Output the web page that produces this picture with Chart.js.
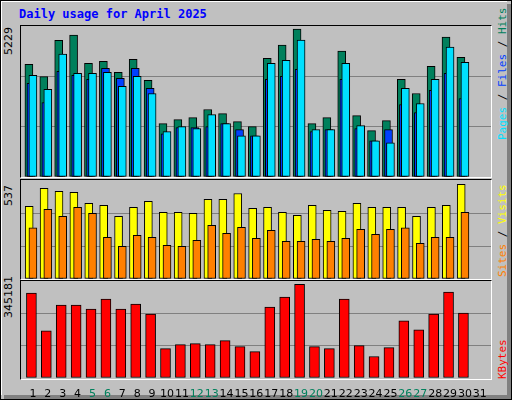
<!DOCTYPE html>
<html><head><meta charset="utf-8">
<script src="https://cdn.jsdelivr.net/npm/chart.js@4"></script>
<style>
html,body{margin:0;padding:0;background:#c0c0c0;}
#wrap{position:relative;width:512px;height:400px;overflow:hidden;background:#c0c0c0;}
.abs{position:absolute;}
canvas{position:absolute;}
.rot{position:absolute;transform-origin:0 0;transform:rotate(-90deg);white-space:nowrap;font-family:"DejaVu Sans",sans-serif;font-size:11px;}
.frame{position:absolute;border-top:1px solid #000;border-left:1px solid #000;border-right:1px solid #fff;border-bottom:1px solid #fff;box-sizing:border-box;}
</style></head><body>
<div id="wrap">
  <div class="abs" style="left:0;top:0;width:512px;height:400px;box-sizing:border-box;border:1px solid #000;"></div>
  <div class="abs" style="left:1px;top:1px;width:506px;height:394px;box-sizing:border-box;border-top:1px solid #fff;border-left:1px solid #fff;"></div>
  <div class="abs" style="left:507px;top:4px;width:4px;height:395px;background:#808080;"></div>
  <div class="abs" style="left:4px;top:395px;width:507px;height:4px;background:#808080;"></div>
  <div class="abs" style="left:19px;top:7px;font-family:'DejaVu Sans Mono',monospace;font-weight:bold;font-size:12px;color:#0000ff;">Daily usage for April 2025</div>
  <div class="frame" style="left:20px;top:25px;width:472px;height:153px;"></div>
  <div class="frame" style="left:20px;top:179px;width:472px;height:101px;"></div>
  <div class="frame" style="left:20px;top:280px;width:472px;height:100px;"></div>
  <div class="rot" style="left:2px;top:55px;color:#000">5229</div>
  <div class="rot" style="left:2px;top:206px;color:#000">537</div>
  <div class="rot" style="left:2px;top:318px;color:#000">345181</div>
  <div class="rot" style="left:496px;top:140px;font-family:'DejaVu Sans Mono',monospace;"><span style="color:#00e0ff">Pages</span> <span style="color:#000">/</span> <span style="color:#0040ff">Files</span> <span style="color:#000">/</span> <span style="color:#00805c">Hits</span></div>
  <div class="rot" style="left:496px;top:277px;font-family:'DejaVu Sans Mono',monospace;"><span style="color:#ff8000">Sites</span> <span style="color:#000">/</span> <span style="color:#ffff00">Visits</span></div>
  <div class="rot" style="left:496px;top:379px;font-family:'DejaVu Sans Mono',monospace;color:#ff0000">KBytes</div>
  <canvas id="c1" style="left:21px;top:26px;" width="470" height="151"></canvas>
  <canvas id="c2" style="left:21px;top:180px;" width="470" height="99"></canvas>
  <canvas id="c3" style="left:21px;top:281px;" width="470" height="119"></canvas>
</div>
<script>
const days = ["1","2","3","4","5","6","7","8","9","10","11","12","13","14","15","16","17","18","19","20","21","22","23","24","25","26","27","28","29","30","31"];
const weekend = [5,6,12,13,19,20,26,27];
const hits  = [3904,3476,4730,4915,3939,4009,3625,4079,3347,1848,1987,2057,2336,2196,1917,1743,4113,4567,5124,1848,2057,4357,2126,1604,1952,3381,2893,3835,4845,4148];
const files = [3242,2580,3660,3521,3381,3765,3416,3765,3068,1499,1708,1708,1743,1848,1638,1429,3381,3486,3730,1569,1638,3381,1673,1255,1638,2510,2231,2998,3591,2719];
const pages = [3521,3033,4253,3591,3591,3625,3137,3486,2893,1569,1743,1673,2161,1848,1429,1429,3939,4044,4741,1638,1638,3939,1778,1255,1185,3068,2545,3381,4497,3974];
const visits= [394,492,475,470,410,400,340,389,421,362,362,356,432,432,464,383,389,362,345,400,372,367,410,389,389,389,340,389,400,513];
const sites = [278,378,340,389,356,226,177,237,226,183,177,210,291,248,280,221,264,204,204,215,204,221,269,242,269,278,194,226,226,362];
const kbytes= [301800,168000,259600,259600,245500,280700,245500,263100,227900,104600,118700,122200,118700,132800,111600,94000,252500,287800,333500,111600,104600,280700,115200,76400,108100,203200,171500,227900,305400,231400];
const maxHits = 5229, maxVisits = 537, maxKb = 345181;

function pts(arr, off){ return arr.map((v,i)=>({x:i+1+off, y:v})); }
function ds(arr, off, color, w){ return {data:pts(arr,off), backgroundColor:color, borderColor:'#000', borderWidth:1, barThickness:w, borderSkipped:false}; }
function opts(max, showX){
  return {
    responsive:false, animation:false, events:[],
    layout:{padding:0},
    plugins:{legend:{display:false}, tooltip:{enabled:false}},
    datasets:{bar:{grouped:false}},
    scales:{
      x:{type:'linear', min:0.2, max:31.75, display:showX, offset:false,
         grid:{display:false}, border:{display:false},
         afterFit:(s)=>{ if(showX) s.height=22; },
         afterBuildTicks:(s)=>{ s.ticks = days.map((d,i)=>({value:i+1})); },
         ticks:{autoSkip:false, maxRotation:0, padding:2,
           font:{family:'DejaVu Sans', size:11},
           color:(c)=>weekend.includes(c.tick.value)?'#00805c':'#000',
           callback:(v)=>days[v-1]}},
      y:{min:0, max:max, display:true, afterFit:(s)=>{s.width=0;},
         border:{display:false},
         ticks:{display:false, stepSize:max/3},
         grid:{drawTicks:false, color:(c)=>(c.index===1||c.index===2)?'#808080':'rgba(0,0,0,0)'}}
    }
  };
}
new Chart(document.getElementById('c1'), {type:'bar', data:{datasets:[
  ds(pages,0,'#00e0ff',8), ds(files,-0.13,'#0040ff',8), ds(hits,-0.27,'#00805c',8)]}, options:opts(maxHits,false)});
new Chart(document.getElementById('c2'), {type:'bar', data:{datasets:[
  ds(sites,0,'#ff8000',8), ds(visits,-0.25,'#ffff00',8)]}, options:opts(maxVisits,false)});
new Chart(document.getElementById('c3'), {type:'bar', data:{datasets:[
  ds(kbytes,-0.1,'#ff0000',10)]}, options:opts(maxKb,true)});
</script>
</body></html>
